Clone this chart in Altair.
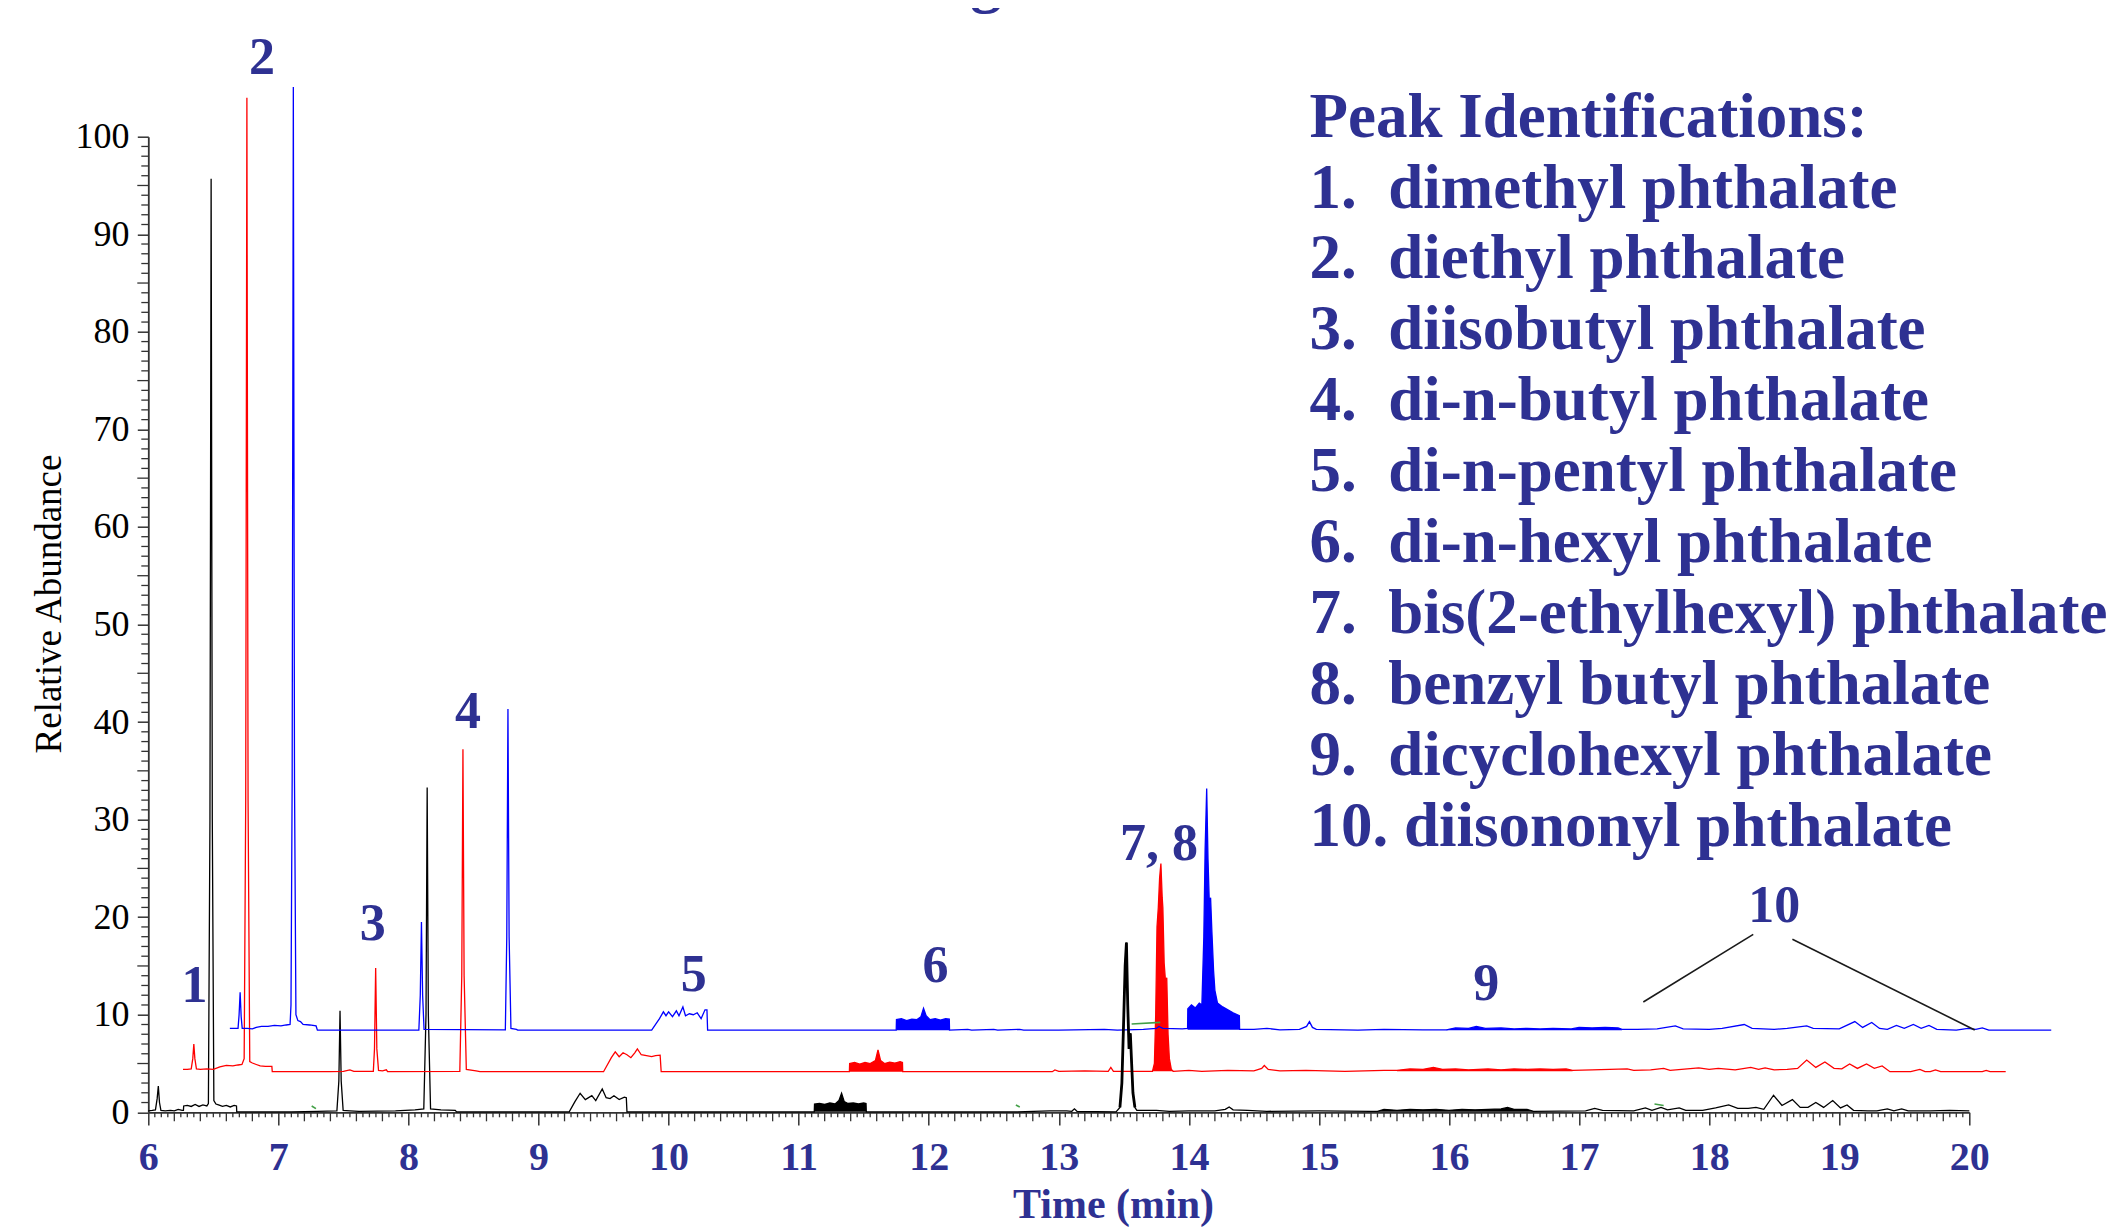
import altair as alt
import pandas as pd

# ---------------- data ----------------
# (retention time in min, relative abundance) for the three overlaid traces
BLACK = [
    (6.00, 0.15), (6.03, 0.2), (6.055, 0.25), (6.068, 1.4), (6.077, 2.7), (6.086, 1.0), (6.097, 0.2),
    (6.13, 0.15), (6.17, 0.2), (6.20, 0.15), (6.23, 0.3), (6.26, 0.2), (6.27, 0.2), (6.272, 0.65),
    (6.30, 0.7), (6.33, 0.6), (6.36, 0.8), (6.39, 0.6), (6.42, 0.75), (6.45, 0.65), (6.462, 0.9),
    (6.474, 30), (6.483, 95.7), (6.492, 30), (6.504, 1.2), (6.52, 0.85), (6.54, 0.75), (6.57, 0.6),
    (6.60, 0.7), (6.63, 0.55), (6.66, 0.7), (6.678, 0.65), (6.68, 0.05),
    (7.10, 0.05), (7.30, 0.1), (7.45, 0.15), (7.465, 3.2), (7.474, 10.4), (7.483, 3.2), (7.498, 0.2),
    (7.55, 0.15), (7.62, 0.1), (7.90, 0.15), (8.05, 0.25), (8.118, 0.35), (8.135, 10), (8.144, 33.3),
    (8.153, 10), (8.17, 0.35), (8.25, 0.25), (8.36, 0.2), (8.37, 0.05),
    (9.236, 0.05), (9.28, 1.1), (9.32, 1.95), (9.36, 1.3), (9.41, 1.7), (9.44, 1.2), (9.49, 2.4),
    (9.52, 1.5), (9.55, 1.4), (9.58, 1.7), (9.62, 1.3), (9.66, 1.55), (9.675, 1.5), (9.68, 0.05),
    (11.12, 0.05), (11.122, 0.85), (11.16, 0.9), (11.20, 0.8), (11.24, 0.95), (11.28, 0.85),
    (11.31, 1.2), (11.33, 1.95), (11.35, 1.1), (11.38, 0.9), (11.42, 0.95), (11.46, 0.85),
    (11.50, 0.95), (11.518, 0.9), (11.52, 0.05),
    (12.68, 0.05), (12.93, 0.15), (13.06, 0.15), (13.10, 0.1), (13.12, 0.35), (13.14, 0.1),
    (13.44, 0.05), (13.47, 0.5), (13.485, 3), (13.50, 10), (13.51, 15), (13.52, 17.4), (13.53, 11),
    (13.54, 6.5), (13.55, 8.1), (13.56, 5), (13.57, 2), (13.585, 0.5), (13.60, 0.2), (13.75, 0.2),
    (13.85, 0.1), (14.0, 0.15), (14.2, 0.15), (14.28, 0.3), (14.31, 0.55), (14.34, 0.25),
    (14.45, 0.2), (14.6, 0.1), (15.0, 0.15), (15.4, 0.1),
    (15.45, 0.1), (15.5, 0.3), (15.6, 0.2), (15.7, 0.3), (15.8, 0.25), (15.9, 0.3), (16.0, 0.2),
    (16.1, 0.3), (16.2, 0.25), (16.3, 0.3), (16.4, 0.35), (16.45, 0.5), (16.5, 0.3), (16.6, 0.3),
    (16.65, 0.1),
    (17.05, 0.15), (17.12, 0.4), (17.18, 0.2), (17.42, 0.15), (17.51, 0.45), (17.56, 0.2),
    (17.63, 0.5), (17.68, 0.25), (17.77, 0.45), (17.82, 0.2), (17.95, 0.2), (18.05, 0.45),
    (18.15, 0.75), (18.22, 0.4), (18.30, 0.4), (18.36, 0.5), (18.42, 0.3), (18.495, 1.75),
    (18.56, 0.7), (18.64, 1.3), (18.70, 0.5), (18.76, 0.5), (18.82, 1.0), (18.88, 0.5),
    (18.95, 1.2), (19.01, 0.45), (19.06, 0.75), (19.11, 0.2), (19.22, 0.15), (19.29, 0.15),
    (19.37, 0.35), (19.42, 0.15), (19.48, 0.35), (19.53, 0.15), (19.70, 0.15), (19.85, 0.2),
    (20.0, 0.15),
]

RED = [
    (6.267, 4.4), (6.30, 4.4), (6.33, 4.45), (6.342, 5.5), (6.35, 7.0), (6.358, 5.5), (6.37, 4.45),
    (6.40, 4.4), (6.45, 4.45), (6.50, 4.4), (6.55, 4.65), (6.60, 4.8), (6.65, 4.75), (6.69, 4.85),
    (6.72, 4.9), (6.737, 5.5), (6.749, 32), (6.758, 104.0), (6.767, 32), (6.78, 5.2), (6.80, 5.05),
    (6.83, 4.9), (6.86, 4.75), (6.90, 4.7), (6.95, 4.7), (6.953, 4.16),
    (7.40, 4.16), (7.50, 4.2), (7.55, 4.35), (7.58, 4.2), (7.73, 4.2), (7.739, 6.5), (7.748, 14.8),
    (7.757, 6.5), (7.77, 4.3), (7.80, 4.25), (7.83, 4.35), (7.84, 4.16), (8.395, 4.2), (8.41, 14),
    (8.419, 37.2), (8.428, 14), (8.445, 4.4), (8.52, 4.25), (8.55, 4.16),
    (9.50, 4.16), (9.56, 5.6), (9.59, 6.2), (9.62, 5.7), (9.65, 6.1), (9.68, 5.9), (9.71, 5.6),
    (9.74, 6.1), (9.76, 6.5), (9.79, 5.9), (9.83, 5.8), (9.87, 5.7), (9.90, 5.8), (9.935, 5.85),
    (9.943, 4.16),
    (11.39, 4.16), (11.392, 5.0), (11.43, 5.1), (11.47, 4.95), (11.51, 5.1), (11.55, 5.0),
    (11.59, 5.3), (11.61, 6.4), (11.63, 5.3), (11.66, 5.0), (11.70, 5.15), (11.74, 5.05),
    (11.78, 5.2), (11.798, 5.1), (11.80, 4.16),
    (12.95, 4.16), (12.97, 4.35), (13.0, 4.2), (13.2, 4.25), (13.38, 4.2), (13.40, 4.6), (13.42, 4.2),
    (13.72, 4.2), (13.735, 5), (13.745, 10), (13.755, 19), (13.765, 21), (13.775, 24),
    (13.785, 25.5), (13.795, 22), (13.80, 21), (13.81, 15.3), (13.82, 13.5), (13.83, 13.8),
    (13.84, 8), (13.85, 5.5), (13.865, 4.4), (13.88, 4.2),
    (14.0, 4.3), (14.1, 4.2), (14.3, 4.3), (14.5, 4.25), (14.56, 4.5), (14.58, 4.8), (14.61, 4.4),
    (14.7, 4.25), (14.9, 4.3), (15.2, 4.2), (15.5, 4.3),
    (15.6, 4.3), (15.7, 4.45), (15.8, 4.4), (15.88, 4.6), (15.95, 4.4), (16.05, 4.45), (16.15, 4.35),
    (16.3, 4.45), (16.4, 4.35), (16.5, 4.45), (16.6, 4.4), (16.7, 4.45), (16.8, 4.4), (16.9, 4.45),
    (16.95, 4.3),
    (17.1, 4.35), (17.37, 4.45), (17.42, 4.3), (17.55, 4.35), (17.65, 4.5), (17.7, 4.3),
    (17.92, 4.55), (18.0, 4.4), (18.07, 4.5), (18.2, 4.35), (18.32, 4.6), (18.38, 4.4),
    (18.43, 4.55), (18.5, 4.35), (18.60, 4.4), (18.68, 4.5), (18.75, 5.35), (18.82, 4.6),
    (18.89, 5.15), (18.96, 4.5), (19.02, 4.45), (19.08, 4.95), (19.14, 4.5), (19.21, 4.95),
    (19.27, 4.5), (19.33, 4.75), (19.39, 4.16), (19.55, 4.16), (19.62, 4.4), (19.66, 4.16),
    (19.70, 4.16), (19.74, 4.35), (19.78, 4.16), (20.10, 4.16), (20.13, 4.3), (20.16, 4.16),
    (20.28, 4.16),
]

BLUE = [
    (6.627, 8.6), (6.69, 8.6), (6.698, 10.0), (6.706, 12.3), (6.714, 9.8), (6.722, 8.6), (6.76, 8.6),
    (6.80, 8.55), (6.83, 8.7), (6.87, 8.8), (6.92, 8.8), (6.97, 8.9), (7.02, 8.85), (7.06, 8.95),
    (7.09, 9.0), (7.097, 11), (7.106, 34), (7.115, 105.1), (7.124, 34), (7.135, 10), (7.15, 9.4),
    (7.17, 9.3), (7.19, 9.0), (7.24, 8.95), (7.29, 8.85), (7.30, 8.42),
    (8.08, 8.42), (8.091, 12), (8.10, 19.5), (8.109, 12), (8.12, 8.5), (8.745, 8.45), (8.756, 18),
    (8.765, 41.35), (8.774, 18), (8.788, 8.6), (8.83, 8.5), (8.84, 8.42),
    (9.87, 8.42), (9.93, 9.6), (9.96, 10.3), (9.98, 9.9), (10.0, 10.3), (10.03, 9.8), (10.06, 10.4),
    (10.08, 9.9), (10.11, 10.8), (10.13, 9.9), (10.16, 10.1), (10.19, 10.0), (10.22, 10.2),
    (10.25, 9.6), (10.28, 10.5), (10.295, 10.5), (10.30, 8.42),
    (11.75, 8.42), (11.752, 9.5), (11.79, 9.6), (11.83, 9.4), (11.87, 9.55), (11.91, 9.5),
    (11.94, 9.8), (11.96, 10.66), (11.98, 9.9), (12.01, 9.5), (12.05, 9.6), (12.09, 9.45),
    (12.13, 9.6), (12.158, 9.55), (12.16, 8.42),
    (12.3, 8.5), (12.33, 8.42), (12.5, 8.5), (12.53, 8.42), (12.7, 8.5), (12.73, 8.42), (13.0, 8.42),
    (13.35, 8.5), (13.45, 8.42), (13.65, 8.5), (13.75, 8.6), (13.77, 8.8), (13.80, 8.6), (13.95, 8.55),
    (13.99, 8.6), (13.992, 10.6), (14.02, 11.0), (14.05, 10.7), (14.08, 11.2), (14.10, 11.0),
    (14.115, 18), (14.125, 27), (14.137, 33.2), (14.147, 26), (14.157, 21.5), (14.167, 22),
    (14.177, 18.5), (14.19, 14.5), (14.20, 12.5), (14.22, 11.2), (14.26, 10.8), (14.30, 10.5),
    (14.34, 10.2), (14.388, 9.9), (14.39, 8.5),
    (14.5, 8.5), (14.6, 8.6), (14.7, 8.45), (14.85, 8.5), (14.905, 8.8), (14.927, 9.29), (14.95, 8.7),
    (14.98, 8.5), (15.3, 8.42), (15.5, 8.5), (15.8, 8.45),
    (15.98, 8.45), (16.05, 8.65), (16.15, 8.6), (16.21, 8.8), (16.28, 8.6), (16.4, 8.65),
    (16.5, 8.55), (16.6, 8.6), (16.7, 8.55), (16.8, 8.6), (16.94, 8.55), (17.0, 8.7), (17.1, 8.65),
    (17.2, 8.7), (17.3, 8.65), (17.33, 8.5),
    (17.45, 8.5), (17.6, 8.55), (17.74, 8.85), (17.8, 8.55), (18.0, 8.5), (18.1, 8.6), (18.27, 9.0),
    (18.33, 8.6), (18.5, 8.5), (18.6, 8.6), (18.75, 8.85), (18.8, 8.6), (19.0, 8.55), (19.12, 9.3),
    (19.18, 8.7), (19.25, 9.2), (19.31, 8.6), (19.37, 8.5), (19.44, 8.9), (19.5, 8.6), (19.57, 9.0),
    (19.63, 8.6), (19.69, 8.9), (19.75, 8.5), (19.9, 8.42), (19.99, 8.6), (20.05, 8.5), (20.1, 8.65),
    (20.15, 8.42), (20.63, 8.42),
]

# stretches where the signal is so dense it prints as a solid block: (trace, start, end, baseline)
DENSE = [
    ("black", 11.12, 11.52, 0.05), ("black", 15.45, 16.65, 0.05),
    ("red", 11.39, 11.80, 4.16), ("red", 13.72, 13.88, 4.2), ("red", 15.6, 16.95, 4.2),
    ("blue", 11.75, 12.16, 8.42), ("blue", 13.99, 14.39, 8.45), ("blue", 15.98, 17.33, 8.42),
]
THICK = [("black", 13.47, 13.585)]

# peak number labels
LABEL_TEXT = ["1", "2", "3", "4", "5", "6", "7, 8", "9", "10"]
LABEL_T = [6.355, 6.874, 7.726, 8.457, 10.194, 12.053, 13.77, 16.287, 18.50]
LABEL_Y = [11.27, 106.4, 17.65, 39.35, 12.47, 13.39, 25.9, 11.51, 19.54]

# leader lines from label 10 (t, y, t2, y2)
TEN_LINES = [(18.339, 18.24, 17.494, 11.31), (18.64, 17.73, 20.042, 8.44)]
# short green integration marks (t, y, t2, y2)
GREEN_MARKS = [(7.256, 0.65, 7.289, 0.37), (12.67, 0.75, 12.70, 0.55),
               (13.56, 9.05, 13.78, 9.22), (17.58, 0.85, 17.65, 0.7)]

LEGEND_LINES = [
    "Peak Identifications:",
    "1.\u00a0\u00a0dimethyl phthalate",
    "2.\u00a0\u00a0diethyl phthalate",
    "3.\u00a0\u00a0diisobutyl phthalate",
    "4.\u00a0\u00a0di-n-butyl phthalate",
    "5.\u00a0\u00a0di-n-pentyl phthalate",
    "6.\u00a0\u00a0di-n-hexyl phthalate",
    "7.\u00a0\u00a0bis(2-ethylhexyl) phthalate",
    "8.\u00a0\u00a0benzyl butyl phthalate",
    "9.\u00a0\u00a0dicyclohexyl phthalate",
    "10.\u00a0diisononyl phthalate",
]
LEGEND_T = 14.928
LEGEND_Y = [100.0, 92.73, 85.47, 78.2, 70.93, 63.67, 56.4, 49.13, 41.87, 34.6, 27.33]

# cut-off title fragment at top of the figure
TOP_FRAGMENT = ("g", 12.44, 114.0)

X_TICKS = list(range(6, 21))
Y_TICKS = list(range(0, 101, 10))

# ---------------- build tables ----------------
SERIES = {"black": BLACK, "red": RED, "blue": BLUE}
trace_df = pd.DataFrame(
    [{"series": s, "t": t, "y": y} for s, pts in SERIES.items() for t, y in pts]
)

dense_rows = []
for k, (s, t0, t1, base) in enumerate(DENSE):
    for t, y in SERIES[s]:
        if t0 - 1e-9 <= t <= t1 + 1e-9:
            dense_rows.append({"series": s, "seg": k, "t": t, "y": y, "lo": base})
dense_df = pd.DataFrame(dense_rows)

thick_rows = []
for k, (s, t0, t1) in enumerate(THICK):
    for t, y in SERIES[s]:
        if t0 <= t <= t1:
            thick_rows.append({"series": s, "seg": k, "t": t, "y": y})
thick_df = pd.DataFrame(thick_rows)

labels_df = pd.DataFrame({"t": LABEL_T, "y": LABEL_Y, "text": LABEL_TEXT})
legend_df = pd.DataFrame({"t": [LEGEND_T] * len(LEGEND_LINES), "y": LEGEND_Y, "text": LEGEND_LINES})
ten_df = pd.DataFrame(TEN_LINES, columns=["t", "y", "t2", "y2"])
green_df = pd.DataFrame(GREEN_MARKS, columns=["t", "y", "t2", "y2"])
frag_df = pd.DataFrame([{"text": TOP_FRAGMENT[0], "t": TOP_FRAGMENT[1], "y": TOP_FRAGMENT[2]}])

x_minor = [round(6 + i * 0.05, 2) for i in range(281)]
x_med = [v for v in x_minor if abs(v * 5 - round(v * 5)) < 1e-6 and abs(v - round(v)) > 1e-6]
x_small = [v for v in x_minor if abs(v * 5 - round(v * 5)) > 1e-6]
y_five = [v for v in range(5, 100, 10)]
y_small = [v for v in range(0, 101) if v % 5 != 0]
xmed_df = pd.DataFrame({"t": x_med})
xsmall_df = pd.DataFrame({"t": x_small})
yfive_df = pd.DataFrame({"y": y_five})
ysmall_df = pd.DataFrame({"y": y_small})

# ---------------- styling ----------------
W, H = 1821, 975.6
SERIF = "Liberation Serif"
NAVY = "#2e3192"
AXIS_GREY = "#333333"

xscale = alt.Scale(domain=[6, 20], nice=False, zero=False)
yscale = alt.Scale(domain=[0, 100], nice=False, zero=False)

xaxis = alt.Axis(
    values=X_TICKS, format="d", grid=False,
    tickSize=12.7, tickWidth=1.5, tickColor=AXIS_GREY,
    domainColor=AXIS_GREY, domainWidth=1.8,
    labelFont=SERIF, labelFontSize=40, labelFontWeight="bold", labelColor=NAVY,
    labelBaseline="alphabetic", labelPadding=45, labelOverlap=False, labelFlush=False,
    title="Time (min)", titleFont=SERIF, titleFontSize=42, titleFontWeight="bold",
    titleColor=NAVY, titleX=964.7, titleY=105.5, titleAlign="center", titleBaseline="alphabetic",
)
yaxis = alt.Axis(
    values=Y_TICKS, format="d", grid=False,
    tickSize=11, tickWidth=1.5, tickColor=AXIS_GREY,
    domainColor=AXIS_GREY, domainWidth=1.8,
    labelFont=SERIF, labelFontSize=36, labelColor="black",
    labelPadding=8.4, labelOverlap=False, labelFlush=False,
    title="Relative Abundance", titleFont=SERIF, titleFontSize=37, titleFontWeight="normal",
    titleColor="black", titleAngle=270, titleX=-88.3, titleY=466.8,
    titleAlign="center", titleBaseline="alphabetic",
)

X = alt.X("t:Q", scale=xscale, axis=xaxis)
Y = alt.Y("y:Q", scale=yscale, axis=yaxis)
COLOR = alt.Color(
    "series:N",
    scale=alt.Scale(domain=["black", "red", "blue"], range=["#000000", "#ff0000", "#0000ff"]),
    legend=None,
)

areas = alt.Chart(dense_df).mark_area(strokeWidth=0, opacity=1).encode(
    x=X, y=Y, y2="lo:Q", color=COLOR, detail="seg:N"
)
lines = alt.Chart(trace_df).mark_line(strokeWidth=1.3).encode(x=X, y=Y, color=COLOR)
thick = alt.Chart(thick_df).mark_line(strokeWidth=2.8).encode(x=X, y=Y, color=COLOR, detail="seg:N")

green = alt.Chart(green_df).mark_rule(color="#43a047", strokeWidth=1.6).encode(
    x=X, y=Y, x2="t2:Q", y2="y2:Q"
)
ten = alt.Chart(ten_df).mark_rule(color="#1a1a1a", strokeWidth=1.6).encode(
    x=X, y=Y, x2="t2:Q", y2="y2:Q"
)
labels = alt.Chart(labels_df).mark_text(
    font=SERIF, fontWeight="bold", fontSize=52, color=NAVY, align="center", baseline="alphabetic"
).encode(x=X, y=Y, text="text:N")
legend = alt.Chart(legend_df).mark_text(
    font=SERIF, fontWeight="bold", fontSize=63, color=NAVY, align="left", baseline="alphabetic"
).encode(x=X, y=Y, text="text:N")
frag = alt.Chart(frag_df).mark_text(
    font=SERIF, fontWeight="bold", fontSize=63, color=NAVY, align="center", baseline="alphabetic"
).encode(x=X, y=Y, text="text:N")

xmed = alt.Chart(xmed_df).mark_rule(color=AXIS_GREY, strokeWidth=1.3).encode(
    x=X, y=alt.value(H), y2=alt.value(H + 9)
)
xsmall = alt.Chart(xsmall_df).mark_rule(color=AXIS_GREY, strokeWidth=1.3).encode(
    x=X, y=alt.value(H), y2=alt.value(H + 5)
)
yfive = alt.Chart(yfive_df).mark_rule(color=AXIS_GREY, strokeWidth=1.3).encode(
    y=Y, x=alt.value(0), x2=alt.value(-11)
)
ysmall = alt.Chart(ysmall_df).mark_rule(color=AXIS_GREY, strokeWidth=1.3).encode(
    y=Y, x=alt.value(0), x2=alt.value(-7)
)

chart = alt.layer(
    xsmall, xmed, yfive, ysmall, areas, lines, thick, green, ten, labels, legend, frag
).properties(
    width=W, height=H,
    autosize=alt.AutoSizeParams(type="none"),
    padding={"left": 140.3, "top": 128.7, "right": 146, "bottom": 118},
).configure_view(stroke=None)

chart.save("out.html", embed_options={"renderer": "svg", "actions": False})
